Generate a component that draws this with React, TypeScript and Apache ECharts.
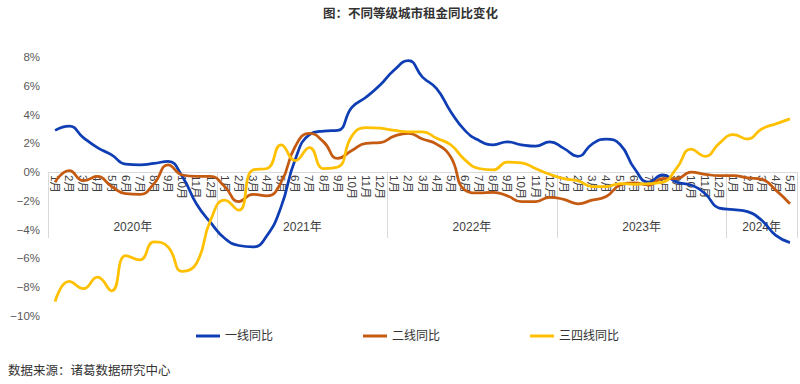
import React, { useEffect, useRef } from 'react';
import * as echarts from 'echarts';

const months = [
  '1月','2月','3月','4月','5月','6月','7月','8月','9月','10月','11月','12月',
  '1月','2月','3月','4月','5月','6月','7月','8月','9月','10月','11月','12月',
  '1月','2月','3月','4月','5月','6月','7月','8月','9月','10月','11月','12月',
  '1月','2月','3月','4月','5月','6月','7月','8月','9月','10月','11月','12月',
  '1月','2月','3月','4月','5月',
];
const years = ['2020年', '2021年', '2022年', '2023年', '2024年'];
const yearBoundaries = [0, 12, 24, 36, 48, 53];
const yearCenters = [6, 18, 30, 42, 50.5];

const tier1 = [2.9, 3.2, 2.4, 1.7, 1.2, 0.55, 0.5, 0.6, 0.75, -0.3, -2.2, -3.5, -4.6, -5.1, -5.2, -4.4, -2.4, 0.9, 2.6, 2.85, 2.9, 4.5, 5.2, 6.05, 7.1, 7.75, 6.6, 5.8, 4.2, 2.9, 2.2, 1.9, 2.1, 1.9, 1.8, 2.1, 1.65, 1.1, 1.95, 2.3, 1.9, 0.25, -0.7, -0.2, -0.7, -0.9, -1.5, -2.5, -2.6, -2.75, -3.35, -4.4, -4.9];
const tier2 = [-0.7, 0.1, -0.6, -0.3, -1.0, -1.5, -1.55, -0.8, 0.5, -0.2, -0.3, -0.3, -1.0, -2.05, -1.55, -1.65, -0.7, 1.8, 2.7, 2.1, 0.95, 1.5, 2.0, 2.05, 2.5, 2.7, 2.3, 1.95, 1.05, -1.25, -1.45, -1.4, -1.65, -2.05, -2.05, -1.75, -1.9, -2.2, -1.95, -1.7, -0.9, -0.75, -0.9, -0.45, -0.45, 0.0, -0.15, -0.25, -0.25, -0.4, -0.5, -1.25, -2.2];
const tier34 = [-9.0, -7.6, -8.1, -7.3, -8.25, -5.8, -6.1, -4.85, -5.2, -6.9, -6.35, -3.35, -1.95, -2.65, 0.15, 0.25, 1.9, 0.8, 1.7, 0.25, 0.35, 2.5, 3.1, 3.05, 2.9, 2.8, 2.8, 2.35, 1.9, 0.85, 0.25, 0.15, 0.7, 0.65, 0.25, -0.15, -0.45, -0.6, -1.0, -1.0, -0.8, -0.85, -0.8, -0.7, 0.3, 1.6, 1.1, 2.0, 2.6, 2.3, 3.0, 3.35, 3.7];

const seriesNames = ['一线同比', '二线同比', '三四线同比'];
const colors = ['#0F3EB4', '#C55A11', '#FFC000'];

const FONT = '"Liberation Sans", "Noto Sans CJK SC", sans-serif';

// grid geometry: y from -10 (bottom) to 8 (top); zero line sits 10/18 of height above bottom
const GRID_TOP = 57;
const GRID_BOTTOM = 68;
const GRID_H = 384 - GRID_TOP - GRID_BOTTOM;
const ZERO_OFFSET = -Math.round((GRID_H * 10) / 18);

export default function App() {
  const ref = useRef<HTMLDivElement>(null);
  useEffect(() => {
    if (!ref.current) return;
    const chart = echarts.init(ref.current, null, { renderer: 'svg' });
    const mk = (name: string, data: number[], color: string) => ({
      name,
      type: 'line',
      xAxisIndex: 0,
      yAxisIndex: 0,
      data,
      smooth: 0.5,
      symbol: 'none',
      showSymbol: false,
      lineStyle: { width: 2.75, color },
      itemStyle: { color },
      z: 3,
    });
    chart.setOption({
      animation: false,
      backgroundColor: '#fff',
      textStyle: { fontFamily: FONT },
      title: [
        {
          text: '图：不同等级城市租金同比变化',
          left: 318,
          top: 3,
          textStyle: { fontSize: 12.5, fontWeight: 'bold', color: '#333', fontFamily: FONT },
        },
        {
          text: '数据来源：诸葛数据研究中心',
          left: 3,
          top: 360,
          textStyle: { fontSize: 12.5, fontWeight: 'normal', color: '#333', fontFamily: FONT },
        },
      ],
      legend: {
        data: seriesNames,
        left: 191,
        top: 325,
        icon: 'rect',
        itemWidth: 24,
        itemHeight: 3,
        itemGap: 90,
        textStyle: { fontSize: 12, color: '#333', fontFamily: FONT },
      },
      grid: { left: 48, right: 3, top: GRID_TOP, bottom: GRID_BOTTOM, outerBoundsMode: 'none', containLabel: false },
      xAxis: [
        {
          type: 'category',
          data: months,
          boundaryGap: true,
          offset: ZERO_OFFSET,
          axisLine: { show: true, onZero: false, lineStyle: { color: '#d9d9d9', width: 1 } },
          axisTick: { show: false },
          axisLabel: {
            interval: 0,
            rotate: -90,
            margin: 3,
            fontSize: 11.5,
            color: '#404040',
            fontFamily: FONT,
          },
          splitLine: { show: false },
        },
        {
          type: 'value',
          min: 0,
          max: 53,
          position: 'bottom',
          offset: ZERO_OFFSET,
          axisLine: { show: false, onZero: false },
          axisTick: {
            show: true,
            customValues: yearBoundaries,
            length: 66,
            lineStyle: { color: '#d9d9d9', width: 1 },
          },
          axisLabel: {
            customValues: yearCenters,
            margin: 49,
            fontSize: 12,
            color: '#404040',
            fontFamily: FONT,
            formatter: (v: number) => years[yearCenters.indexOf(v)] ?? '',
          },
          splitLine: { show: false },
        },
      ],
      yAxis: {
        type: 'value',
        min: -10,
        max: 8,
        interval: 2,
        axisLine: { show: false },
        axisTick: { show: false },
        splitLine: { show: false },
        axisLabel: {
          margin: 8,
          fontSize: 11.5,
          color: '#595959',
          fontFamily: FONT,
          formatter: (v: number) => (v < 0 ? '−' : '') + Math.abs(v) + '%',
        },
      },
      series: [
        mk(seriesNames[0], tier1, colors[0]),
        mk(seriesNames[1], tier2, colors[1]),
        mk(seriesNames[2], tier34, colors[2]),
      ],
    });
    return () => chart.dispose();
  }, []);
  return (
    <div
      ref={ref}
      style={{ position: 'fixed', left: 0, top: 0, width: 800, height: 384 }}
    />
  );
}
